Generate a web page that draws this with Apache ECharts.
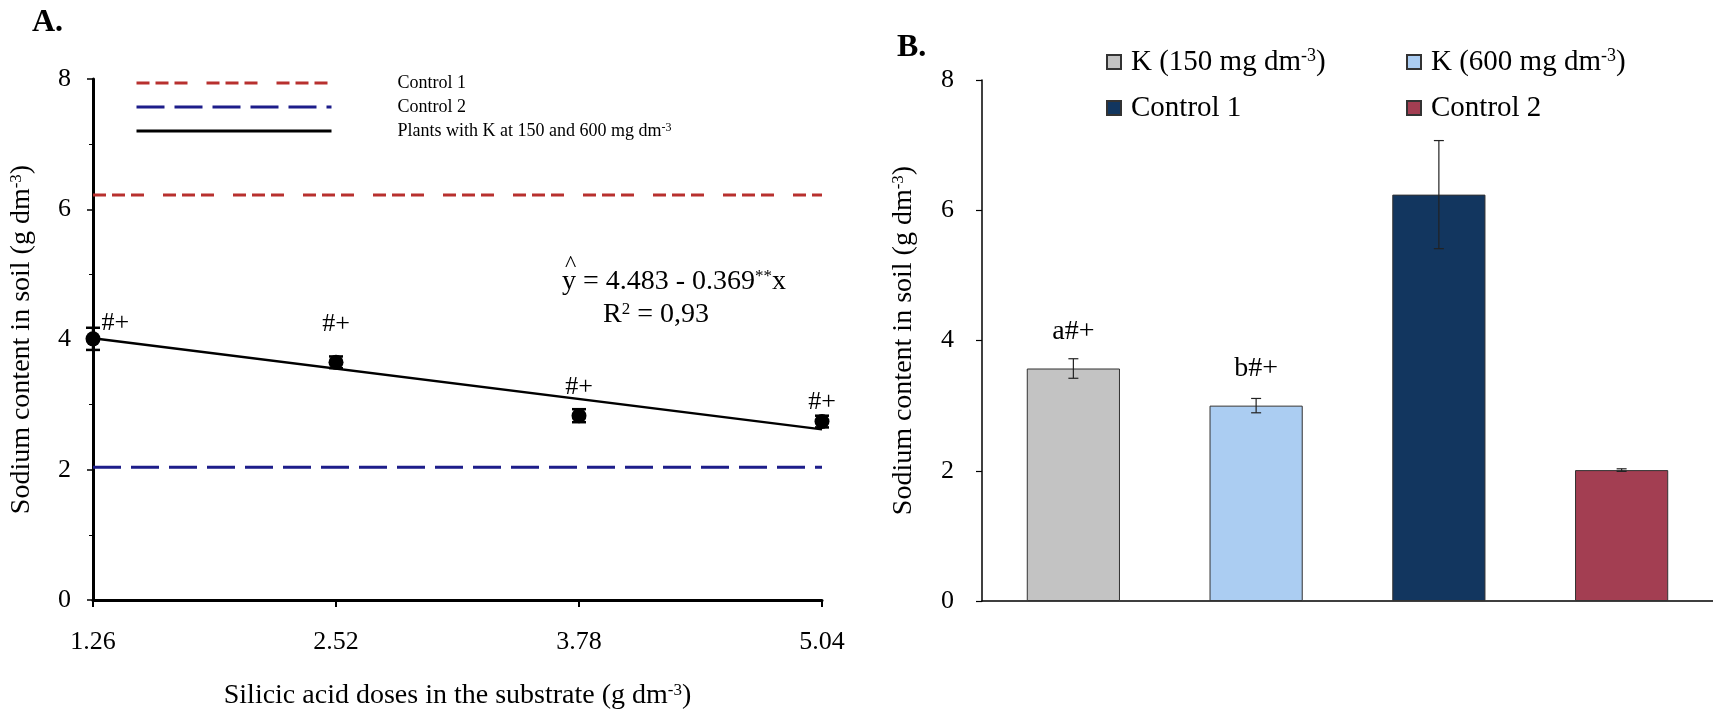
<!DOCTYPE html>
<html>
<head>
<meta charset="utf-8">
<script src="https://cdn.jsdelivr.net/npm/echarts@6/dist/echarts.min.js"></script>
<style>
  html, body { margin: 0; padding: 0; background: #fff; }
  #myChart { width: 1713px; height: 715px; }
</style>
</head>
<body>
<div id="myChart"></div>
<script>
// panel A: silicic acid doses vs sodium in soil
const doses = [1.26, 2.52, 3.78, 5.04];
const sodiumA = [4.01, 3.65, 2.83, 2.74];
const errA = [0.17, 0.09, 0.1, 0.09];
const labelGapA = [0, 18, 8, -1];
const xEnds = [1.26, 5.04];
const control1Line = [6.22, 6.22];
const control2Line = [2.04, 2.04];
const fitLine = [4.02, 2.62];

// panel B: bars
const groupKeys = ['k150', 'k600', 'c1', 'c2'];
const groupNames = ['K (150 mg dm{sup|-3})', 'K (600 mg dm{sup|-3})', 'Control 1', 'Control 2'];
const sodiumB = [3.57, 3.0, 6.24, 2.01];
const errB = [0.15, 0.11, 0.83, 0.02];
const lettersB = ['a#+', 'b#+', '', ''];

const FONT = 'Liberation Serif';
const barColors = ['#c3c3c3', '#abcdf2', '#12365f', '#a33e52'];
const supStyle = { fontFamily: FONT, verticalAlign: 'bottom' };

const nameA = ['Control 1', 'Control 2', 'Plants with K at 150 and 600 mg dm-3'];

function errBar(capHalf, width, color) {
  return function (params, api) {
    const x = api.value(0);
    const v = api.value(1);
    const e = api.value(2);
    const top = api.coord([x, v + e]);
    const bot = api.coord([x, v - e]);
    const st = { stroke: color, lineWidth: width };
    return {
      type: 'group',
      children: [
        { type: 'line', shape: { x1: top[0], y1: top[1], x2: bot[0], y2: bot[1] }, style: st },
        { type: 'line', shape: { x1: top[0] - capHalf, y1: top[1], x2: top[0] + capHalf, y2: top[1] }, style: st },
        { type: 'line', shape: { x1: bot[0] - capHalf, y1: bot[1], x2: bot[0] + capHalf, y2: bot[1] }, style: st }
      ]
    };
  };
}

const barSeries = groupKeys.map((k, i) => ({
  name: k,
  type: 'bar',
  xAxisIndex: 1,
  yAxisIndex: 1,
  stack: 'b',
  barWidth: '51%',
  data: sodiumB.map((v, j) => (j === i ? v : '-')),
  itemStyle: { color: barColors[i], borderColor: '#333', borderWidth: 1 },
  label: {
    show: lettersB[i] !== '',
    position: 'top',
    distance: 23,
    formatter: lettersB[i],
    fontFamily: FONT,
    fontSize: 28,
    color: '#000'
  }
}));

const nameStyle = {
  fontFamily: FONT, fontSize: 28, color: '#000',
  rich: { sup: Object.assign({ fontSize: 17, padding: [0, 0, 11, 0] }, supStyle) }
};

const option = {
  animation: false,
  title: [
    { text: 'A.', left: 27, top: 2, textStyle: { fontFamily: FONT, fontSize: 32, fontWeight: 'bold', color: '#000' } },
    { text: 'B.', left: 892, top: 27, textStyle: { fontFamily: FONT, fontSize: 32, fontWeight: 'bold', color: '#000' } }
  ],
  legend: [
    {
      data: nameA,
      left: 130,
      top: 68,
      orient: 'vertical',
      itemWidth: 195,
      itemHeight: 14,
      itemGap: 4,
      selectedMode: false,
      lineStyle: { width: 3 },
      itemStyle: { opacity: 0 },
      formatter: n => '{gap|}' + n.replace('-3', '{sup|-3}'),
      textStyle: {
        fontFamily: FONT, fontSize: 18, color: '#000', lineHeight: 20,
        rich: { gap: { width: 61 }, sup: Object.assign({ fontSize: 12, padding: [0, 0, 7, 0] }, supStyle) }
      }
    },
    {
      data: ['k150', 'c1'],
      left: 1101,
      top: 42,
      orient: 'vertical',
      icon: 'rect',
      itemWidth: 14,
      itemHeight: 14,
      itemGap: 16,
      selectedMode: false,
      formatter: n => '{gap|}' + groupNames[groupKeys.indexOf(n)],
      textStyle: {
        fontFamily: FONT, fontSize: 29, color: '#000', lineHeight: 30,
        rich: { gap: { width: 5 }, sup: Object.assign({ fontSize: 18, padding: [0, 0, 12, 0] }, supStyle) }
      }
    },
    {
      data: ['k600', 'c2'],
      left: 1401,
      top: 42,
      orient: 'vertical',
      icon: 'rect',
      itemWidth: 14,
      itemHeight: 14,
      itemGap: 16,
      selectedMode: false,
      formatter: n => '{gap|}' + groupNames[groupKeys.indexOf(n)],
      textStyle: {
        fontFamily: FONT, fontSize: 29, color: '#000', lineHeight: 30,
        rich: { gap: { width: 5 }, sup: Object.assign({ fontSize: 18, padding: [0, 0, 12, 0] }, supStyle) }
      }
    }
  ],
  grid: [
    { left: 93, top: 79, width: 729, height: 522 },
    { left: 982, top: 80, width: 731, height: 521 }
  ],
  xAxis: [
    {
      gridIndex: 0,
      type: 'value',
      min: 1.26,
      max: 5.04,
      interval: 1.26,
      name: 'Silicic acid doses in the substrate (g dm{sup|-3})',
      nameLocation: 'middle',
      nameGap: 82,
      nameTextStyle: nameStyle,
      axisLine: { lineStyle: { color: '#000', width: 3 } },
      axisTick: { show: true, length: 7, lineStyle: { color: '#000', width: 2 } },
      axisLabel: { margin: 29, fontFamily: FONT, fontSize: 26, color: '#000', formatter: v => v.toFixed(2) },
      splitLine: { show: false }
    },
    {
      gridIndex: 1,
      type: 'category',
      data: groupKeys,
      axisLine: { lineStyle: { color: '#000', width: 1.5 } },
      axisTick: { show: false },
      axisLabel: { show: false }
    }
  ],
  yAxis: [
    {
      gridIndex: 0,
      type: 'value',
      min: 0,
      max: 8,
      interval: 2,
      name: 'Sodium content in soil (g dm{sup|-3})',
      nameLocation: 'middle',
      nameGap: 57,
      nameTextStyle: nameStyle,
      axisLine: { show: true, lineStyle: { color: '#000', width: 3 } },
      axisTick: { show: true, length: 6, lineStyle: { color: '#000', width: 1.5 } },
      minorTick: { show: true, splitNumber: 2, length: 4, lineStyle: { color: '#000', width: 1 } },
      axisLabel: { margin: 22, fontFamily: FONT, fontSize: 26, color: '#000' },
      splitLine: { show: false }
    },
    {
      gridIndex: 1,
      type: 'value',
      min: 0,
      max: 8,
      interval: 2,
      name: 'Sodium content in soil (g dm{sup|-3})',
      nameLocation: 'middle',
      nameGap: 64,
      nameTextStyle: nameStyle,
      axisLine: { show: true, lineStyle: { color: '#000', width: 1.5 } },
      axisTick: { show: true, length: 6, lineStyle: { color: '#000', width: 1.2 } },
      axisLabel: { margin: 28, fontFamily: FONT, fontSize: 26, color: '#000' },
      splitLine: { show: false }
    }
  ],
  graphic: [
    { type: 'text', left: 565, top: 253, style: { text: '^', fontFamily: FONT, fontSize: 24, fill: '#000' } },
    {
      type: 'text', left: 562, top: 268,
      style: {
        text: 'y = 4.483 - 0.369{sup|**}x',
        fontFamily: FONT, fontSize: 28, fill: '#000',
        rich: { sup: Object.assign({ fontSize: 17, padding: [0, 0, 11, 0] }, supStyle) }
      }
    },
    {
      type: 'text', left: 603, top: 301,
      style: {
        text: 'R{sup|2} = 0,93',
        fontFamily: FONT, fontSize: 28, fill: '#000',
        rich: { sup: Object.assign({ fontSize: 17, padding: [0, 0, 11, 0] }, supStyle) }
      }
    }
  ],
  series: [
    {
      name: 'Control 1',
      type: 'line',
      xAxisIndex: 0, yAxisIndex: 0,
      symbol: 'none',
      data: xEnds.map((x, i) => [x, control1Line[i]]),
      lineStyle: { color: '#b8302e', width: 3, type: [13, 6, 13, 6, 13, 19] }
    },
    {
      name: 'Control 2',
      type: 'line',
      xAxisIndex: 0, yAxisIndex: 0,
      symbol: 'none',
      data: xEnds.map((x, i) => [x, control2Line[i]]),
      lineStyle: { color: '#1d1d8a', width: 3, type: [28, 10] }
    },
    {
      name: nameA[2],
      type: 'line',
      xAxisIndex: 0, yAxisIndex: 0,
      symbol: 'none',
      data: xEnds.map((x, i) => [x, fitLine[i]]),
      lineStyle: { color: '#000', width: 2.5 }
    },
    {
      name: 'points',
      type: 'custom',
      xAxisIndex: 0, yAxisIndex: 0,
      renderItem: errBar(7, 2.5, '#000'),
      data: doses.map((x, i) => [x, sodiumA[i], errA[i]]),
      z: 3
    },
    {
      name: 'means',
      type: 'scatter',
      xAxisIndex: 0, yAxisIndex: 0,
      symbolSize: 15,
      itemStyle: { color: '#000', opacity: 1 },
      data: doses.map((x, i) => ({
        value: [x, sodiumA[i]],
        label: i === 0 ? { position: [16, -21] } : { distance: labelGapA[i] }
      })),
      label: {
        show: true,
        formatter: '#+',
        position: 'top',
        fontFamily: FONT,
        fontSize: 26,
        color: '#000'
      },
      z: 4
    },
    ...barSeries,
    {
      name: 'errB',
      type: 'custom',
      xAxisIndex: 1, yAxisIndex: 1,
      renderItem: errBar(5, 1.2, '#222'),
      data: sodiumB.map((v, i) => [i, v, errB[i]]),
      z: 5
    }
  ]
};

const myChart = echarts.init(document.getElementById('myChart'));
myChart.setOption(option, true);
</script>
</body>
</html>
